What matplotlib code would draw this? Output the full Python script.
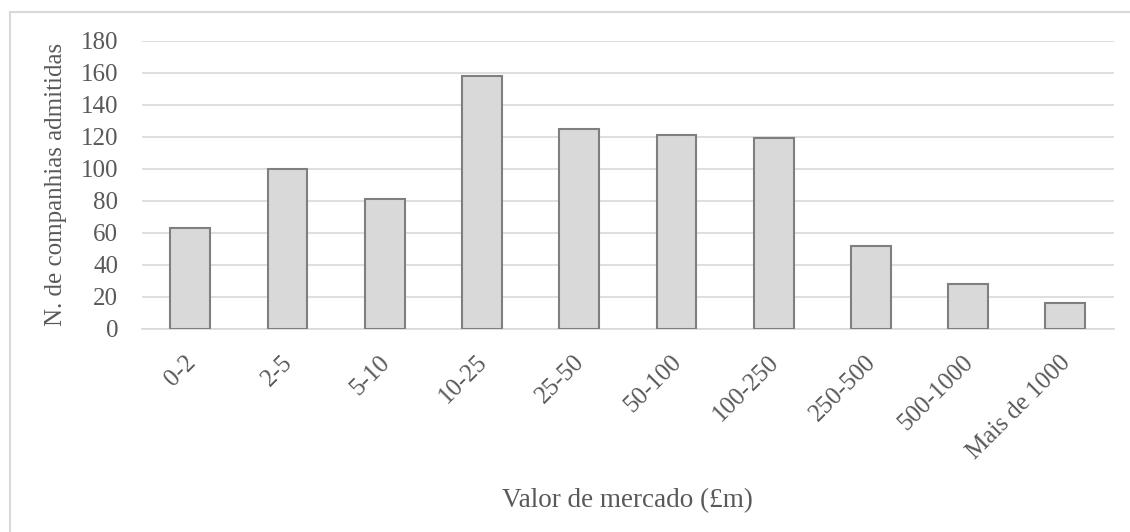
import matplotlib.pyplot as plt
import matplotlib.transforms as mtransforms
from matplotlib.patches import Rectangle
import numpy as np

# faixas de valor de mercado e numero de companhias admitidas
faixas = ['0-2', '2-5', '5-10', '10-25', '25-50', '50-100', '100-250',
          '250-500', '500-1000', 'Mais de 1000']
companhias = [63, 100, 81, 158, 125, 121, 119, 52, 28, 16]

plt.rcParams['font.family'] = ['Liberation Serif', 'DejaVu Serif']
cor_texto = '#595959'

W, H = 1130, 532
fig = plt.figure(figsize=(W / 100, H / 100), dpi=100)

# moldura cinza do grafico (sai pela direita e por baixo)
fig.patches.append(Rectangle((9.5 / W, -0.05), 1.1, 1 - 11.5 / H + 0.05,
                             transform=fig.transFigure, fill=False,
                             edgecolor='#d9d9d9', linewidth=1.5))

ax = fig.add_axes([0.1254, 0.3816, 0.8604, 0.5419])

x = np.arange(len(faixas))
ax.bar(x, companhias, width=0.41, color='#d9d9d9', edgecolor='#7f7f7f',
       linewidth=1.5, zorder=3)

ax.set_xlim(-0.5, len(faixas) - 0.5)
ax.set_ylim(0, 180)
ax.set_yticks(range(0, 181, 20))
ax.grid(axis='y', color='#d9d9d9', linewidth=1.2, zorder=0)
ax.set_axisbelow(True)

for lado in ['top', 'right', 'left']:
    ax.spines[lado].set_visible(False)
ax.spines['bottom'].set_color('#d9d9d9')
ax.spines['bottom'].set_linewidth(1.2)

ax.tick_params(axis='both', length=0, labelsize=18, labelcolor=cor_texto)
ax.tick_params(axis='y', pad=17)
ax.set_xticks(x)
ax.set_xticklabels(faixas, rotation=45, ha='right', rotation_mode='anchor')
ax.tick_params(axis='x', pad=16)
desloc = mtransforms.ScaledTranslation(-6 / 100, 0, fig.dpi_scale_trans)
for rotulo in ax.get_xticklabels():
    rotulo.set_transform(rotulo.get_transform() + desloc)

ax.set_ylabel('N. de companhias admitidas', fontsize=18, color=cor_texto, labelpad=10)
ax.set_xlabel('Valor de mercado (£m)', fontsize=19.5, color=cor_texto, labelpad=18)

plt.savefig('out.png', dpi=100)
